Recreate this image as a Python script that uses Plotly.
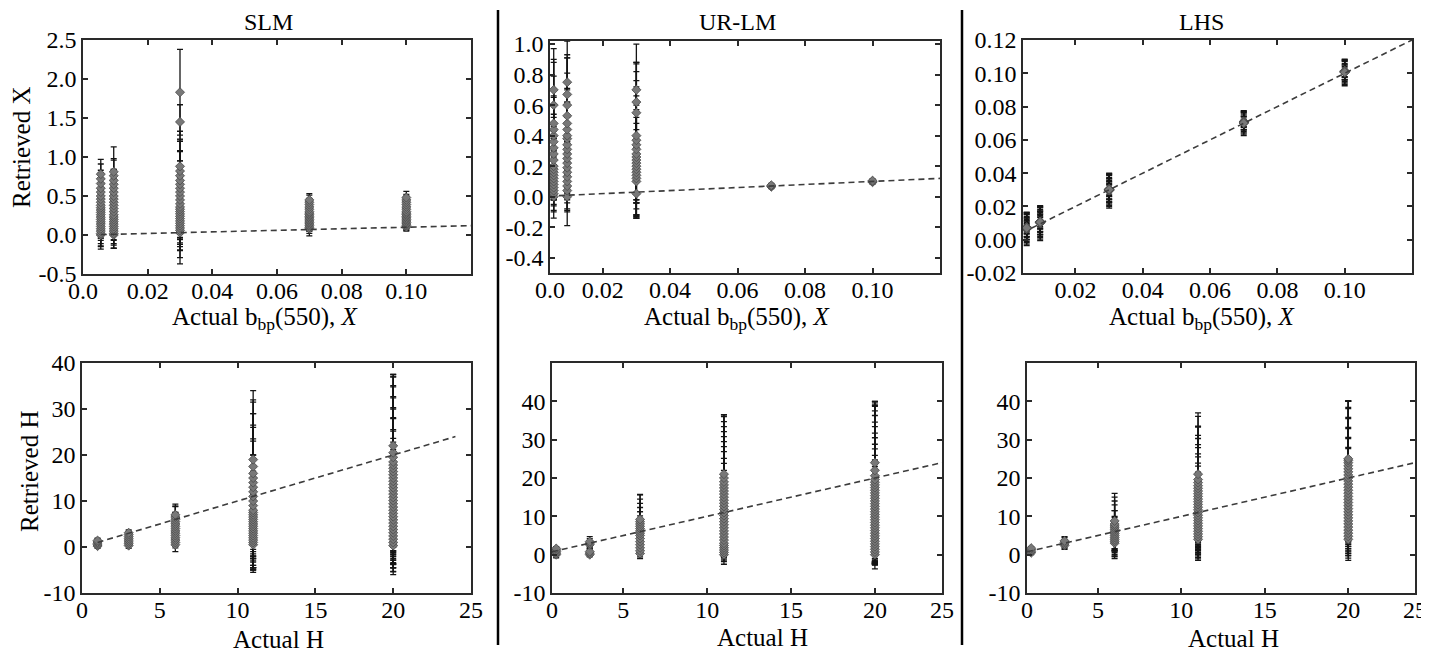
import plotly.graph_objects as go

FONT = "Liberation Serif"
# The page body keeps an 8 px default margin, so the figure is drawn 8 px in
# from the window's top-left corner; size and place it to fit the 1429x653 view.
OFF = 8
W, H = 1429 - OFF, 653 - OFF

# ---------------- DATA ----------------
PANEL_TITLES = ["SLM", "UR-LM", "LHS"]
X_TITLE_TOP = "Actual b<sub>bp</sub>(550), <i>X</i>"
X_TITLE_BOTTOM = "Actual H"
Y_TITLE_TOP = "Retrieved X"
Y_TITLE_BOTTOM = "Retrieved H"

# ---- Top row: retrieved X vs actual X ----
X_ACTUAL = [0.0055, 0.0095, 0.03, 0.07, 0.10]

SLMX_RET = [
    [0.00, 0.02, 0.05, 0.08, 0.11, 0.14, 0.17, 0.20, 0.23, 0.26, 0.29, 0.32, 0.35, 0.38, 0.42, 0.46, 0.50, 0.55, 0.60, 0.66, 0.72, 0.78],
    [0.00, 0.02, 0.05, 0.08, 0.11, 0.14, 0.17, 0.20, 0.23, 0.26, 0.30, 0.34, 0.38, 0.42, 0.46, 0.50, 0.55, 0.60, 0.65, 0.70, 0.76, 0.81],
    [0.03, 0.06, 0.09, 0.12, 0.15, 0.18, 0.21, 0.24, 0.27, 0.30, 0.33, 0.36, 0.40, 0.45, 0.50, 0.55, 0.60, 0.65, 0.70, 0.76, 0.82, 0.88, 1.45, 1.83],
    [0.08, 0.10, 0.12, 0.14, 0.16, 0.18, 0.20, 0.22, 0.24, 0.26, 0.28, 0.30, 0.33, 0.36, 0.39, 0.42, 0.45],
    [0.10, 0.12, 0.14, 0.16, 0.18, 0.20, 0.22, 0.24, 0.26, 0.28, 0.30, 0.33, 0.36, 0.39, 0.42, 0.45, 0.48],
]
SLMX_ERR = [
    [0.18, 0.16, 0.20, 0.15, 0.22, 0.18, 0.21, 0.17, 0.20, 0.16, 0.19, 0.15, 0.18, 0.20, 0.17, 0.19, 0.16, 0.18, 0.20, 0.17, 0.19, 0.19],
    [0.17, 0.19, 0.16, 0.21, 0.18, 0.20, 0.16, 0.19, 0.22, 0.17, 0.20, 0.18, 0.21, 0.19, 0.17, 0.22, 0.20, 0.24, 0.19, 0.26, 0.22, 0.32],
    [0.40, 0.35, 0.28, 0.32, 0.25, 0.30, 0.36, 0.27, 0.33, 0.29, 0.38, 0.31, 0.34, 0.36, 0.30, 0.40, 0.35, 0.42, 0.38, 0.44, 0.40, 0.45, 0.22, 0.55],
    [0.09, 0.08, 0.07, 0.09, 0.08, 0.07, 0.08, 0.09, 0.07, 0.08, 0.09, 0.08, 0.07, 0.09, 0.08, 0.09, 0.08],
    [0.05, 0.06, 0.07, 0.06, 0.05, 0.07, 0.06, 0.05, 0.07, 0.06, 0.08, 0.06, 0.07, 0.06, 0.08, 0.07, 0.08],
]

URLMX_RET = [
    [0.00, 0.02, 0.04, 0.06, 0.08, 0.10, 0.12, 0.14, 0.16, 0.18, 0.20, 0.24, 0.28, 0.32, 0.36, 0.40, 0.44, 0.48, 0.60, 0.70],
    [0.00, 0.04, 0.07, 0.10, 0.13, 0.16, 0.19, 0.22, 0.25, 0.28, 0.31, 0.34, 0.38, 0.40, 0.44, 0.48, 0.53, 0.60, 0.67, 0.75],
    [0.02, 0.10, 0.12, 0.14, 0.16, 0.18, 0.20, 0.22, 0.24, 0.26, 0.28, 0.31, 0.34, 0.37, 0.40, 0.55, 0.62, 0.70],
    [0.065, 0.07, 0.075],
    [0.095, 0.10, 0.105],
]
URLMX_ERR = [
    [0.14, 0.12, 0.10, 0.15, 0.13, 0.11, 0.14, 0.16, 0.12, 0.20, 0.18, 0.22, 0.26, 0.20, 0.30, 0.25, 0.35, 0.40, 0.30, 0.27],
    [0.19, 0.14, 0.16, 0.18, 0.15, 0.20, 0.17, 0.22, 0.19, 0.25, 0.21, 0.28, 0.24, 0.30, 0.27, 0.33, 0.38, 0.31, 0.26, 0.27],
    [0.16, 0.22, 0.20, 0.26, 0.18, 0.30, 0.24, 0.35, 0.28, 0.40, 0.32, 0.45, 0.38, 0.50, 0.42, 0.33, 0.26, 0.30],
    [0.012, 0.010, 0.012],
    [0.012, 0.010, 0.012],
]

LHSX_RET = [
    [0.0065, 0.0068, 0.0070, 0.0072, 0.0075, 0.0070, 0.0068, 0.0072, 0.0070, 0.0066, 0.0074, 0.0070, 0.0069, 0.0071],
    [0.0100, 0.0103, 0.0105, 0.0107, 0.0110, 0.0105, 0.0102, 0.0108, 0.0105, 0.0101, 0.0109, 0.0105, 0.0104, 0.0106],
    [0.0295, 0.0298, 0.0300, 0.0302, 0.0305, 0.0300, 0.0298, 0.0302, 0.0300, 0.0296, 0.0304, 0.0300, 0.0299, 0.0301],
    [0.0700, 0.0703, 0.0705, 0.0707, 0.0710, 0.0705, 0.0702, 0.0708, 0.0705, 0.0701],
    [0.1005, 0.1008, 0.1010, 0.1012, 0.1015, 0.1010, 0.1007, 0.1013, 0.1010, 0.1006],
]
LHSX_ERR = [
    [0.0100, 0.0094, 0.0088, 0.0082, 0.0076, 0.0070, 0.0064, 0.0058, 0.0052, 0.0046, 0.0040, 0.0034, 0.0028, 0.0022],
    [0.0105, 0.0099, 0.0093, 0.0087, 0.0081, 0.0075, 0.0069, 0.0063, 0.0057, 0.0051, 0.0045, 0.0039, 0.0033, 0.0027],
    [0.0105, 0.0099, 0.0093, 0.0087, 0.0081, 0.0075, 0.0069, 0.0063, 0.0057, 0.0051, 0.0045, 0.0039, 0.0033, 0.0027],
    [0.0075, 0.0069, 0.0063, 0.0057, 0.0051, 0.0045, 0.0039, 0.0033, 0.0027, 0.0021],
    [0.0080, 0.0074, 0.0068, 0.0062, 0.0056, 0.0050, 0.0044, 0.0038, 0.0032, 0.0026],
]

# ---- Bottom row: retrieved H vs actual H ----
H_ACTUAL = [1, 3, 6, 11, 20]

SLMH_RET = [
    [0.2, 0.5, 0.8, 1.1, 1.4],
    [0.3, 0.7, 1.1, 1.5, 1.9, 2.3, 2.7, 3.1],
    [0.5, 1.0, 1.5, 2.0, 2.5, 3.0, 3.5, 4.0, 4.5, 5.0, 5.5, 6.0, 6.5, 7.0],
    [0.5, 1.0, 1.5, 2.0, 2.5, 3.0, 3.5, 4.0, 4.5, 5.0, 5.5, 6.0, 6.5, 7.0, 7.5, 8.0, 9.0, 10.0, 11.0, 12.0, 13.0, 14.0, 15.0, 16.0, 17.5, 19.0],
    [0.3, 1.0, 1.7, 2.4, 3.1, 3.8, 4.5, 5.2, 5.9, 6.6, 7.3, 8.0, 8.7, 9.4, 10.1, 10.8, 11.5, 12.2, 12.9, 13.6, 14.3, 15.0, 15.7, 16.4, 17.1, 17.8, 18.5, 19.5, 20.5, 22.0],
]
SLMH_ERR = [
    [0.5, 0.4, 0.5, 0.6, 0.5],
    [0.6, 0.5, 0.5, 0.6, 0.5, 0.6, 0.7, 0.6],
    [1.5, 1.2, 1.3, 1.8, 1.5, 1.6, 2.0, 1.8, 2.2, 2.5, 2.0, 2.8, 2.4, 2.3],
    [6.0, 5.5, 6.5, 6.8, 5.8, 7.5, 8.0, 8.5, 7.0, 9.0, 10.5, 8.0, 11.0, 9.5, 10.0, 12.0, 11.0, 13.0, 12.5, 14.0, 13.5, 15.0, 14.0, 15.5, 14.5, 15.0],
    [6.3, 5.5, 7.0, 6.0, 8.5, 7.5, 9.0, 8.0, 10.5, 9.5, 11.0, 10.0, 12.5, 11.0, 13.5, 12.0, 14.0, 13.0, 15.0, 14.5, 16.0, 15.0, 17.0, 16.0, 18.0, 17.0, 18.5, 17.5, 17.0, 15.5],
]

URLMH_RET = [
    [0.0, 0.4, 0.8, 1.2, 1.6],
    [0.0, 0.4, 0.8, 2.6, 3.0, 3.4],
    [0.3, 1.0, 1.8, 2.6, 3.4, 4.2, 5.0, 5.6, 6.2, 6.8, 7.4, 8.0, 8.6, 9.2],
    [0.0, 0.6, 1.2, 1.8, 2.4, 3.0, 3.8, 4.6, 5.4, 6.2, 7.0, 7.8, 8.6, 9.4, 10.2, 11.0, 11.8, 12.6, 13.4, 14.2, 15.0, 15.8, 16.6, 17.4, 18.2, 19.0, 20.0, 21.0],
    [0.0, 0.7, 1.4, 2.1, 2.8, 3.5, 4.2, 4.9, 5.6, 6.3, 7.0, 7.7, 8.4, 9.1, 9.8, 10.5, 11.2, 11.9, 12.6, 13.3, 14.0, 14.7, 15.4, 16.1, 16.8, 17.5, 18.2, 18.9, 19.6, 20.6, 22.0, 24.0],
]
URLMH_ERR = [
    [0.8, 0.6, 0.7, 0.6, 0.5],
    [0.6, 0.8, 0.7, 1.0, 1.2, 1.3],
    [1.3, 1.6, 1.5, 2.0, 2.4, 3.0, 3.5, 4.5, 5.0, 5.5, 6.0, 6.5, 7.0, 6.5],
    [2.5, 2.0, 3.0, 2.2, 3.5, 3.2, 4.5, 5.0, 6.0, 6.5, 7.5, 8.0, 9.0, 9.5, 10.5, 11.0, 12.0, 12.5, 13.5, 14.0, 14.5, 15.0, 15.5, 16.0, 16.5, 17.0, 16.5, 15.5],
    [3.7, 3.0, 4.0, 3.5, 5.0, 4.5, 6.0, 6.5, 7.5, 8.0, 9.0, 9.5, 10.5, 11.0, 12.0, 12.5, 13.5, 14.0, 15.0, 15.5, 16.5, 17.0, 18.0, 18.5, 19.5, 20.0, 20.5, 20.0, 19.5, 19.0, 18.0, 16.0],
]

LHSH_RET = [
    [0.5, 0.9, 1.3, 1.7],
    [2.4, 2.8, 3.2, 3.6],
    [3.0, 3.5, 4.0, 4.5, 5.0, 5.5, 6.0, 6.5, 7.0, 7.5, 8.0, 8.8],
    [4.0, 4.7, 5.4, 6.1, 6.8, 7.5, 8.2, 8.9, 9.6, 10.3, 11.0, 11.7, 12.4, 13.1, 13.8, 14.5, 15.2, 15.9, 16.6, 17.3, 18.0, 18.8, 19.6, 21.0],
    [4.0, 4.8, 5.6, 6.4, 7.2, 8.0, 8.8, 9.6, 10.4, 11.2, 12.0, 12.8, 13.6, 14.4, 15.2, 16.0, 16.8, 17.6, 18.4, 19.2, 20.0, 20.8, 21.6, 22.4, 23.2, 24.0, 24.6, 25.0],
]
LHSH_ERR = [
    [0.5, 0.6, 0.5, 0.4],
    [1.0, 1.2, 1.3, 1.1],
    [4.0, 3.8, 4.5, 3.5, 5.0, 4.2, 5.5, 5.0, 6.0, 6.5, 7.0, 7.2],
    [5.5, 4.5, 6.5, 5.0, 7.5, 6.0, 8.5, 7.0, 9.5, 8.0, 10.5, 9.0, 11.5, 10.0, 12.5, 11.0, 13.5, 12.0, 14.5, 13.0, 15.5, 14.5, 16.5, 16.0],
    [5.5, 5.0, 6.5, 6.0, 7.5, 7.0, 8.5, 8.0, 9.5, 9.0, 10.5, 10.0, 11.5, 11.0, 12.5, 12.0, 13.5, 13.0, 14.5, 14.0, 15.5, 15.0, 16.5, 16.0, 17.0, 16.0, 15.5, 15.0],
]

# 1:1 reference line extents (y = x)
REF_SLMX = [0.0055, 0.12]
REF_URLMX = [0.007, 0.12]
REF_LHSX = [0.007, 0.12]
REF_SLMH = [1, 24]
REF_URLMH = [0.75, 24]
REF_LHSH = [0.75, 24]

# Axis ranges and tick labels
X_RANGES = [[0, 0.12], [0.0044, 0.12], [0.0044, 0.12], [0, 25], [0.75, 24], [0.75, 24]]
Y_RANGES = [[-0.5, 2.5], [-0.5, 1.02], [-0.02, 0.12], [-10, 40], [-10, 50], [-10, 50]]
X_TICKVALS = [
    [0, 0.02, 0.04, 0.06, 0.08, 0.10],
    [0.0044, 0.02, 0.04, 0.06, 0.08, 0.10],
    [0.02, 0.04, 0.06, 0.08, 0.10],
    [0, 5, 10, 15, 20, 25],
    [0.75, 5, 10, 15, 20, 24],
    [0.75, 5, 10, 15, 20, 24],
]
X_TICKTEXT = [
    ["0.0", "0.02", "0.04", "0.06", "0.08", "0.10"],
    ["0.0", "0.02", "0.04", "0.06", "0.08", "0.10"],
    ["0.02", "0.04", "0.06", "0.08", "0.10"],
    ["0", "5", "10", "15", "20", "25"],
    ["0", "5", "10", "15", "20", "25"],
    ["0", "5", "10", "15", "20", "25"],
]
Y_TICKVALS = [
    [-0.5, 0.0, 0.5, 1.0, 1.5, 2.0, 2.5],
    [-0.4, -0.2, 0.0, 0.2, 0.4, 0.6, 0.8, 1.0],
    [-0.02, 0.0, 0.02, 0.04, 0.06, 0.08, 0.10, 0.12],
    [-10, 0, 10, 20, 30, 40],
    [-10, 0, 10, 20, 30, 40],
    [-10, 0, 10, 20, 30, 40],
]
Y_TICKTEXT = [
    ["-0.5", "0.0", "0.5", "1.0", "1.5", "2.0", "2.5"],
    ["-0.4", "-0.2", "0.0", "0.2", "0.4", "0.6", "0.8", "1.0"],
    ["-0.02", "0.00", "0.02", "0.04", "0.06", "0.08", "0.10", "0.12"],
    ["-10", "0", "10", "20", "30", "40"],
    ["-10", "0", "10", "20", "30", "40"],
    ["-10", "0", "10", "20", "30", "40"],
]

# ---------------- LAYOUT GEOMETRY (window pixels) ----------------
# (left, right, top, bottom)
DOMAINS_PX = [
    (83, 471, 40, 274), (550, 940, 41, 273), (1023, 1412, 40, 273),
    (82, 471, 363, 593), (552, 942, 363, 593), (1027, 1415, 363, 593),
]


def px_x(x):
    return (x - OFF) / W


def px_y(y):
    return 1 - (y - OFF) / H


panels = [
    (X_ACTUAL, SLMX_RET, SLMX_ERR, REF_SLMX),
    (X_ACTUAL, URLMX_RET, URLMX_ERR, REF_URLMX),
    (X_ACTUAL, LHSX_RET, LHSX_ERR, REF_LHSX),
    (H_ACTUAL, SLMH_RET, SLMH_ERR, REF_SLMH),
    (H_ACTUAL, URLMH_RET, URLMH_ERR, REF_URLMH),
    (H_ACTUAL, LHSH_RET, LHSH_ERR, REF_LHSH),
]

fig = go.Figure()

for i, (act, ret, err, ref) in enumerate(panels):
    xs, ys, es = [], [], []
    for a, rl, el in zip(act, ret, err):
        for r, e in zip(rl, el):
            xs.append(a)
            ys.append(r)
            es.append(e)
    ax = "" if i == 0 else str(i + 1)
    fig.add_trace(go.Scatter(
        x=xs, y=ys, mode="markers",
        xaxis="x" + ax, yaxis="y" + ax,
        marker=dict(symbol="diamond", size=7, color="#787878",
                    line=dict(color="#4a4a4a", width=0.8)),
        error_y=dict(type="data", array=es, visible=True,
                     color="#141414", thickness=1.3, width=3),
        showlegend=False, hoverinfo="skip",
    ))
    fig.add_trace(go.Scatter(
        x=ref, y=ref, mode="lines",
        xaxis="x" + ax, yaxis="y" + ax,
        line=dict(color="#3c3c3c", width=1.6, dash="6px,4px"),
        showlegend=False, hoverinfo="skip",
    ))

axis_common = dict(
    showline=True, linecolor="#2a2a2a", linewidth=1.5, mirror="allticks",
    ticks="inside", ticklen=5, tickwidth=1.5, tickcolor="#2a2a2a",
    showgrid=False, zeroline=False, automargin=False,
    tickfont=dict(family=FONT, size=24, color="black"),
)

layout = dict(
    template="none",
    width=W, height=H,
    margin=dict(l=0, r=0, t=0, b=0, pad=0, autoexpand=False),
    paper_bgcolor="white", plot_bgcolor="white",
    font=dict(family=FONT, color="black"),
    showlegend=False,
)

for i, (l, r, t, b) in enumerate(DOMAINS_PX):
    ax = "" if i == 0 else str(i + 1)
    layout["xaxis" + ax] = dict(
        axis_common, domain=[px_x(l), px_x(r)], anchor="y" + ax,
        range=X_RANGES[i], tickmode="array",
        tickvals=X_TICKVALS[i], ticktext=X_TICKTEXT[i],
        ticklabelstandoff=-6,
    )
    layout["yaxis" + ax] = dict(
        axis_common, domain=[px_y(b), px_y(t)], anchor="x" + ax,
        range=Y_RANGES[i], tickmode="array",
        tickvals=Y_TICKVALS[i], ticktext=Y_TICKTEXT[i],
    )

fig.update_layout(**layout)


def ann(text, x, y, size=25, angle=0):
    fig.add_annotation(
        text=text, x=px_x(x), y=px_y(y), xref="paper", yref="paper",
        showarrow=False, xanchor="center", yanchor="middle",
        textangle=angle, font=dict(family=FONT, size=size, color="black"),
    )


for txt, cx in zip(PANEL_TITLES, [268, 737, 1201]):
    ann(txt, cx, 22, size=24)
for cx in [265, 737, 1202]:
    ann(X_TITLE_TOP, cx, 318)
for cx, cy in [(278, 639), (762, 637), (1233, 638)]:
    ann(X_TITLE_BOTTOM, cx, cy)
ann(Y_TITLE_TOP, 22, 148, angle=-90)
ann(Y_TITLE_BOTTOM, 29, 472, angle=-90)

# vertical separators between the method columns
for xpx in [498, 962]:
    fig.add_shape(type="line", xref="paper", yref="paper",
                  x0=px_x(xpx), x1=px_x(xpx), y0=px_y(10), y1=px_y(645),
                  line=dict(color="black", width=2.5))

fig.write_html("out.html")
